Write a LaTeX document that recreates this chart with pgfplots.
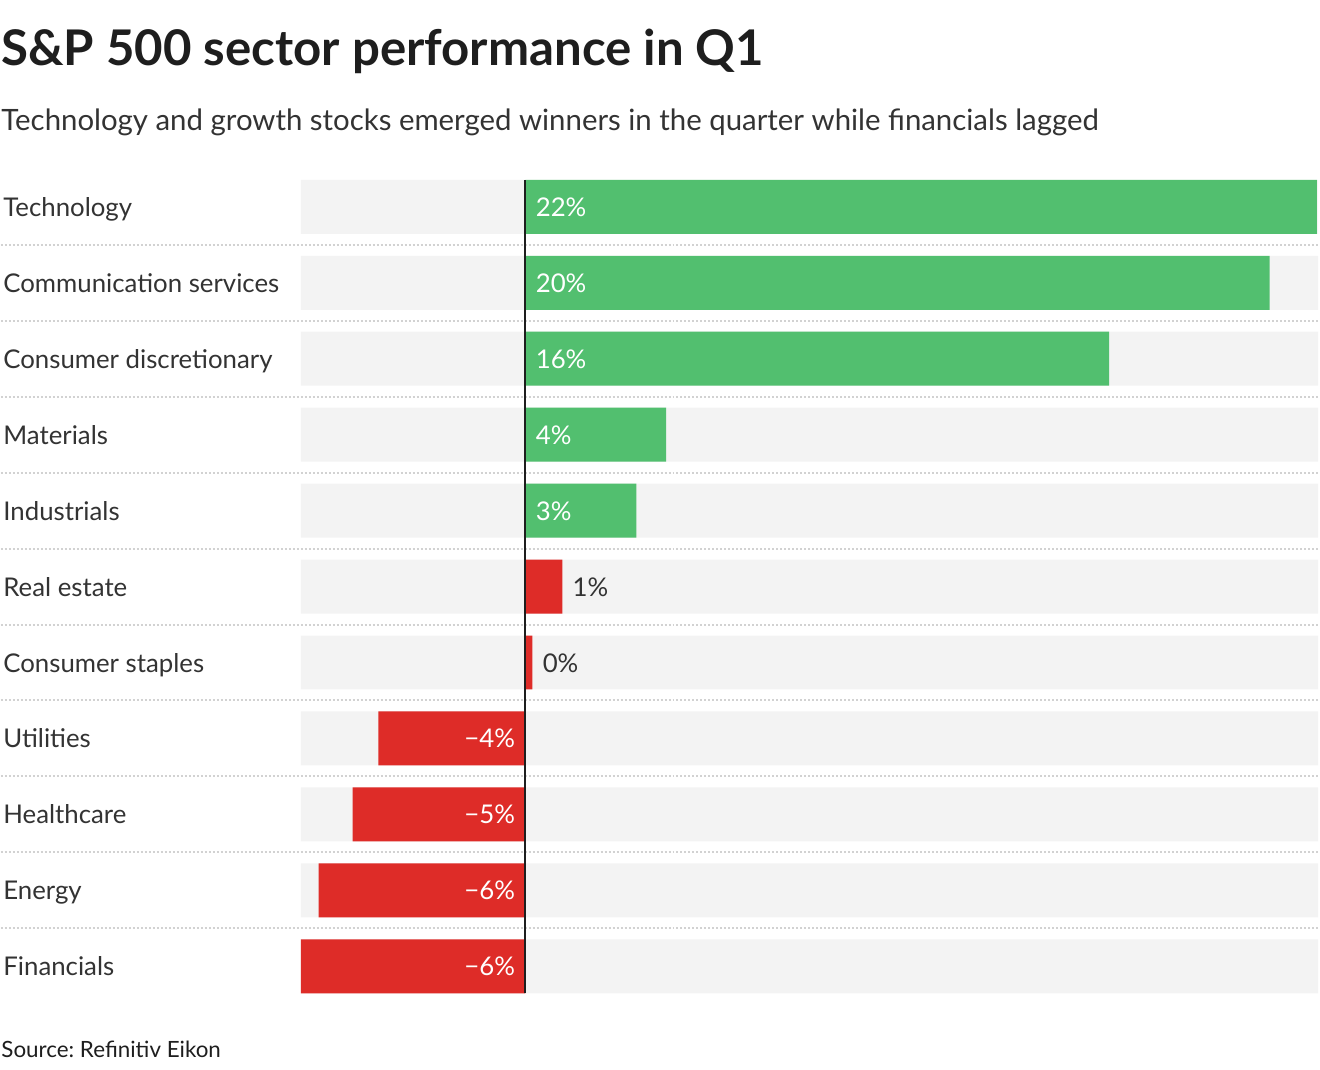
\documentclass[border=0pt]{standalone}
\usepackage{pgfplots}
\pgfplotsset{compat=1.18}
\usepackage{fontspec}
\setmainfont{Lato}
\frenchspacing

\definecolor{upgreen}{HTML}{52BF6F}
\definecolor{downred}{HTML}{DE2C28}
\definecolor{rowbg}{HTML}{F3F3F3}
\definecolor{sepgray}{HTML}{D2D2D2}
\definecolor{txt}{HTML}{333333}
\definecolor{titletxt}{HTML}{1E1E1E}

% 1 px of the reference = 0.5pt
\newcommand{\lblfont}{\fontsize{12.9}{14}\selectfont}

\begin{document}
\begin{tikzpicture}
\path (0pt,0pt) rectangle (660pt,-535pt);

\node[anchor=base west, inner sep=0, text=titletxt,
      font=\bfseries\fontsize{24.6}{27}\selectfont] at (0pt,-33pt)
  {S\&P 500 sector performance in Q1};
\node[anchor=base west, inner sep=0, text=txt,
      font=\fontsize{14.7}{16}\selectfont] at (0pt,-65.5pt)
  {Technology and growth stocks emerged winners in the quarter while financials lagged};
\node[anchor=base west, inner sep=0, text=titletxt,
      font=\fontsize{11.2}{13}\selectfont] at (0pt,-529pt)
  {Source: Refinitiv Eikon};

\begin{axis}[
  at={(150pt,-497pt)}, anchor=south west,
  width=509pt, height=407pt, scale only axis,
  xmin=-6.16, xmax=21.73,
  ymin=-0.355, ymax=10.355,
  hide axis, clip=false,
]

% dotted row separators
\pgfplotsinvokeforeach{0.5,1.5,2.5,3.5,4.5,5.5,6.5,7.5,8.5,9.5}{
  \draw[sepgray, line width=1pt, dash pattern=on 1pt off 1pt]
    ([xshift=-150pt]axis cs:-6.16,#1) -- (axis cs:21.73,#1);
}

% row backgrounds
\addplot[xbar, bar width=27pt, bar shift=0pt, fill=rowbg, draw=none]
  coordinates {(21.73,0)(21.73,1)(21.73,2)(21.73,3)(21.73,4)(21.73,5)
               (21.73,6)(21.73,7)(21.73,8)(21.73,9)(21.73,10)};
\addplot[xbar, bar width=27pt, bar shift=0pt, fill=rowbg, draw=none]
  coordinates {(-6.16,0)(-6.16,1)(-6.16,2)(-6.16,3)(-6.16,4)(-6.16,5)
               (-6.16,6)(-6.16,7)(-6.16,8)(-6.16,9)(-6.16,10)};

% performance (row 10 = top)
\addplot[xbar, bar width=27pt, bar shift=0pt, fill=upgreen, draw=none]
  coordinates {(21.7,10)(20.4,9)(16.0,8)(3.86,7)(3.04,6)};
\addplot[xbar, bar width=27pt, bar shift=0pt, fill=downred, draw=none]
  coordinates {(1.01,5)(0.19,4)(-4.03,3)(-4.74,2)(-5.67,1)(-6.16,0)};

% zero line
\draw[titletxt, line width=1pt] (axis cs:0,-0.355) -- (axis cs:0,10.355);

% sector names
\addplot[draw=none, nodes near coords, point meta=explicit symbolic,
  nodes near coords style={anchor=base west, inner sep=0, xshift=-149pt,
    yshift=-4.75pt, text=txt, font=\lblfont}]
  coordinates {(-6.16,10)[Technology] (-6.16,9)[Communication services]
    (-6.16,8)[Consumer discretionary] (-6.16,7)[Materials]
    (-6.16,6)[Industrials] (-6.16,5)[Real estate]
    (-6.16,4)[Consumer staples] (-6.16,3)[Utilities]
    (-6.16,2)[Healthcare] (-6.16,1)[Energy] (-6.16,0)[Financials]};

% value labels inside green bars
\addplot[draw=none, nodes near coords, point meta=explicit symbolic,
  nodes near coords style={anchor=base west, inner sep=0, xshift=5pt,
    yshift=-4.75pt, text=white, font=\lblfont}]
  coordinates {(0,10)[22\%] (0,9)[20\%] (0,8)[16\%] (0,7)[4\%] (0,6)[3\%]};
% value labels after small red bars
\addplot[draw=none, nodes near coords, point meta=explicit symbolic,
  nodes near coords style={anchor=base west, inner sep=0, xshift=5pt,
    yshift=-4.75pt, text=txt, font=\lblfont}]
  coordinates {(1.01,5)[1\%] (0.19,4)[0\%]};
% value labels inside negative bars
\addplot[draw=none, nodes near coords, point meta=explicit symbolic,
  nodes near coords style={anchor=base east, inner sep=0, xshift=-5pt,
    yshift=-4.75pt, text=white, font=\lblfont}]
  coordinates {(0,3)[−4\%] (0,2)[−5\%] (0,1)[−6\%] (0,0)[−6\%]};

\end{axis}
\end{tikzpicture}
\end{document}
